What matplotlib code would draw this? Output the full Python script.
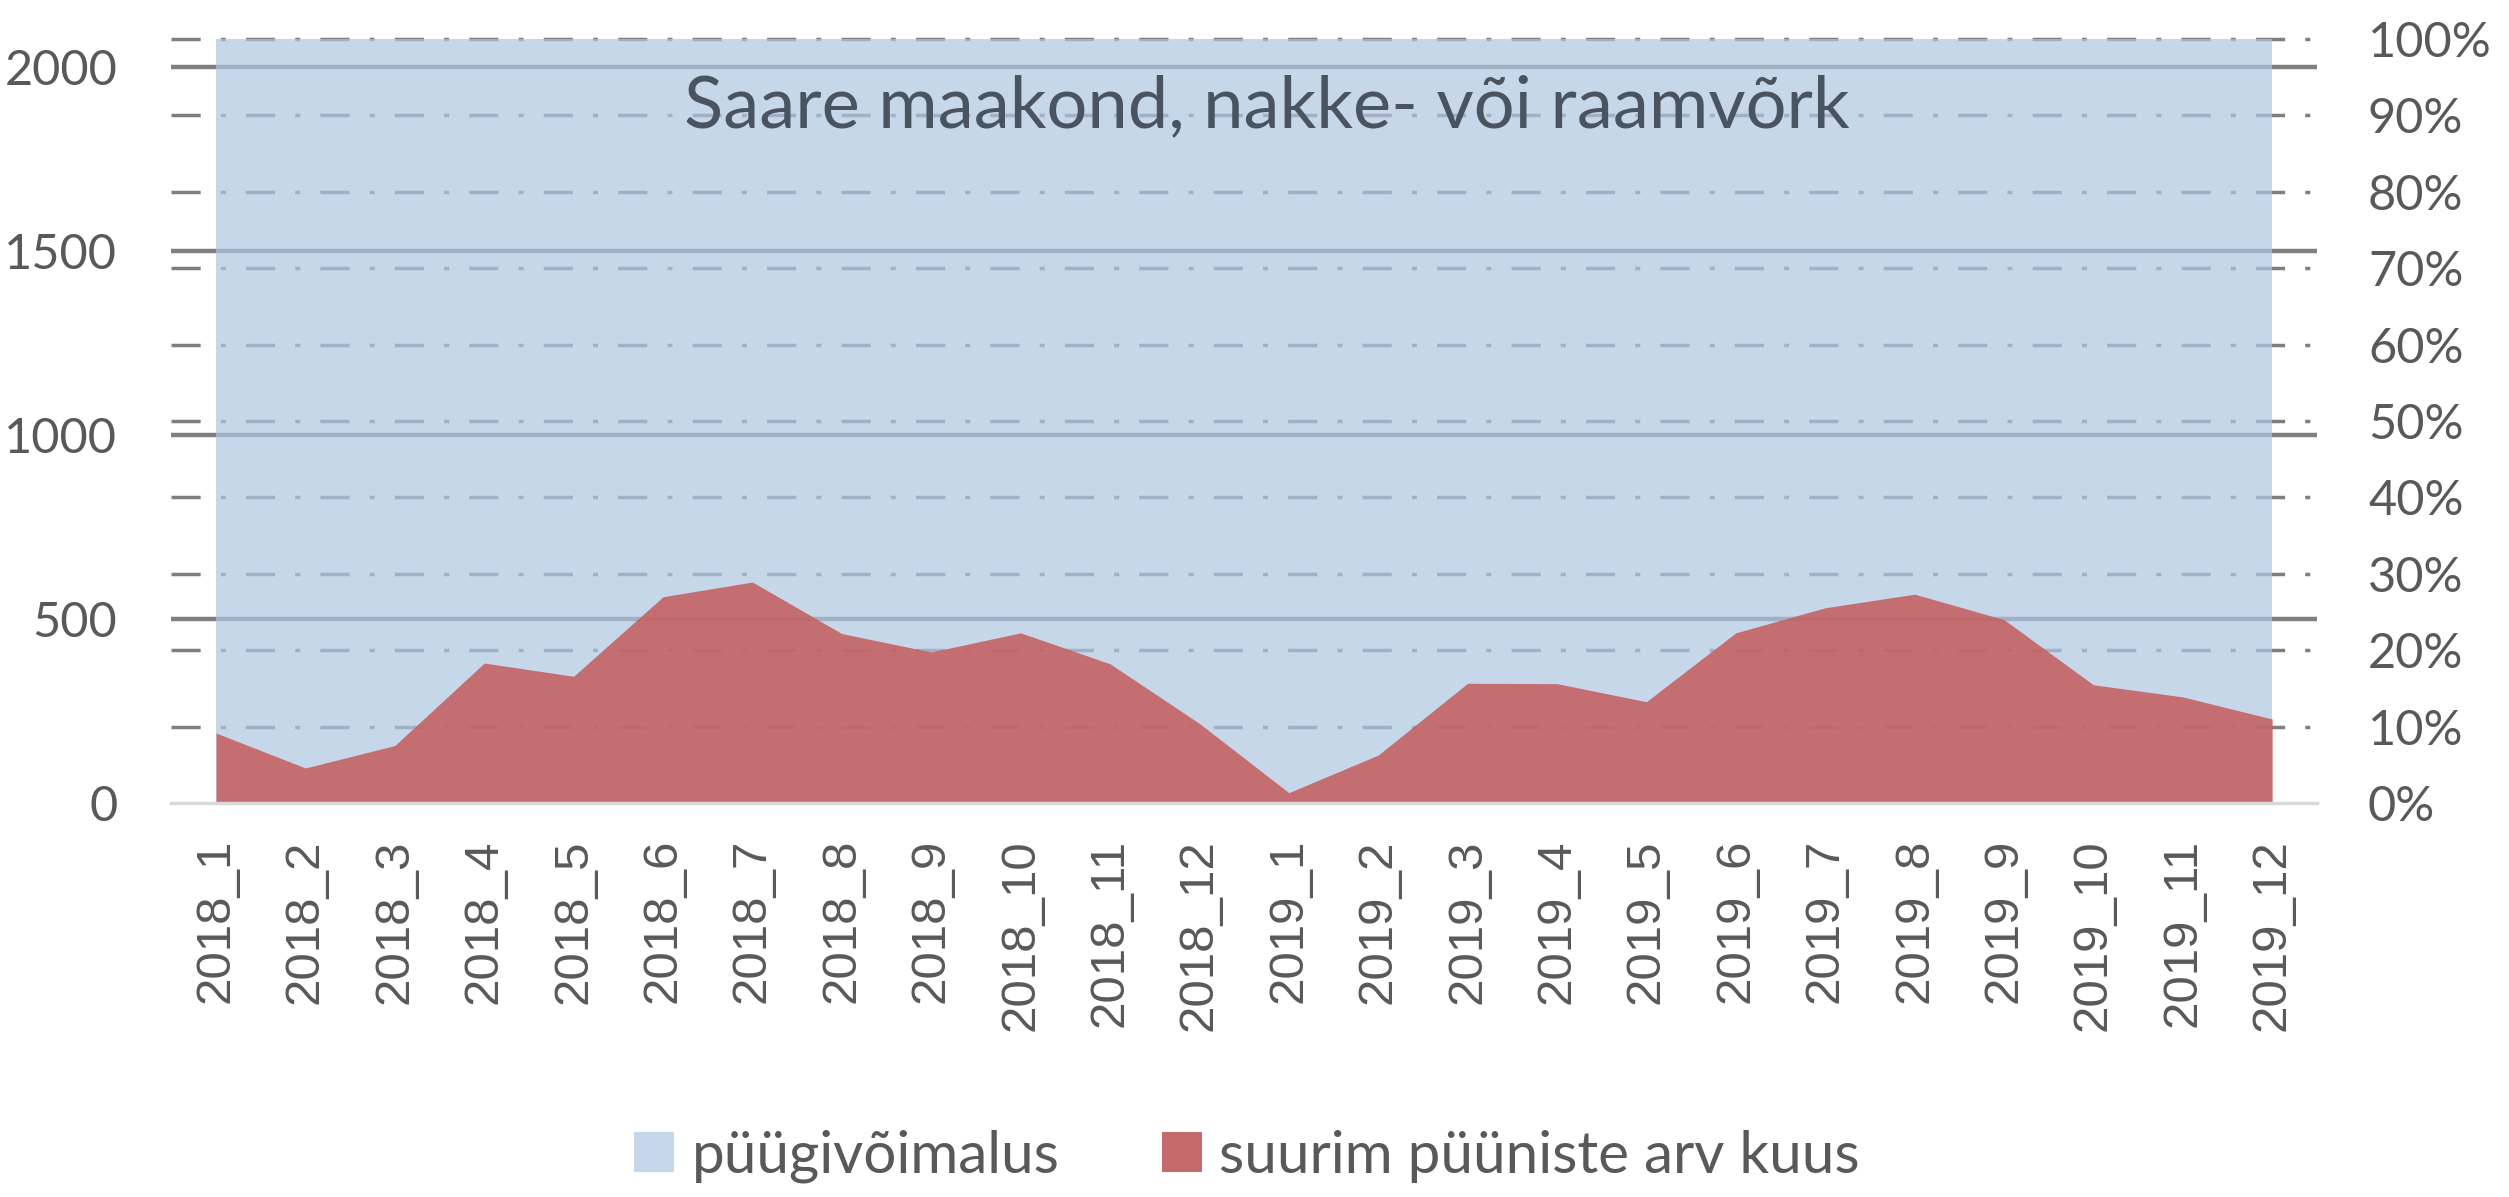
import matplotlib
matplotlib.use('Agg')
import matplotlib.pyplot as plt
from matplotlib.patches import Patch

plt.rcParams['font.family'] = ['Lato', 'DejaVu Sans']
plt.rcParams['lines.scale_dashes'] = False

# andmed
kuud = ['2018_1', '2018_2', '2018_3', '2018_4', '2018_5', '2018_6',
        '2018_7', '2018_8', '2018_9', '2018_10', '2018_11', '2018_12',
        '2019_1', '2019_2', '2019_3', '2019_4', '2019_5', '2019_6',
        '2019_7', '2019_8', '2019_9', '2019_10', '2019_11', '2019_12']
pyygivoimalus = [2075, 2075, 2075, 2075, 2075, 2075, 2075, 2075, 2075, 2075, 2075, 2075,
                 2075, 2075, 2075, 2075, 2075, 2075, 2075, 2075, 2075, 2075, 2075, 2075]
suurim_pyyniste_arv = [190, 95, 156, 380, 344, 560, 600, 460, 410, 462, 378, 216,
                       28, 130, 325, 324, 275, 462, 530, 567, 498, 321, 288, 228]
vasak_ticks = [0, 500, 1000, 1500, 2000]
parem_ticks = [0, 0.1, 0.2, 0.3, 0.4, 0.5, 0.6, 0.7, 0.8, 0.9, 1.0]
parem_labels = ['0%', '10%', '20%', '30%', '40%', '50%', '60%', '70%', '80%', '90%', '100%']

YMAX = 2075
sinine = '#b0c6e2'
punane = '#c56060'
hall_tekst = '#595959'

fig = plt.figure(figsize=(25.09, 11.97), dpi=100)
ax = fig.add_axes([0.0861, 0.3292, 0.8195, 0.6383])
x = list(range(len(kuud)))

# ruudustik (alade all, ulatub teljest veidi välja)
tr = ax.get_yaxis_transform()
ext = 0.022
for v in vasak_ticks[1:]:
    ax.plot([-ext, 1 + ext], [v, v], transform=tr, color='#7f7f7f', lw=3.2,
            solid_capstyle='butt', clip_on=False, zorder=1)
for p in parem_ticks[1:]:
    ax.plot([-ext, 1 + ext], [p * YMAX, p * YMAX], transform=tr, color='#7f7f7f', lw=2.5,
            linestyle=(0, (21, 14.5, 3.6, 14.5)), dash_capstyle='butt',
            clip_on=False, zorder=1)

ax.fill_between(x, 0, pyygivoimalus, color=sinine, alpha=0.7, lw=0, zorder=2)
ax.fill_between(x, 0, suurim_pyyniste_arv, color=punane, alpha=0.88, lw=0, zorder=3)

# x-telje joon
ax.plot([-ext, 1 + ext], [0, 0], transform=tr, color='#d9d9d9', lw=2.5,
        clip_on=False, zorder=4)

ax.set_xlim(0, len(kuud) - 1)
ax.set_ylim(0, YMAX)
ax.set_yticks(vasak_ticks)
ax.set_yticklabels([str(v) for v in vasak_ticks])
ax.set_xticks(x)
ax.set_xticklabels(kuud, rotation=90, family=['Liberation Sans', 'DejaVu Sans'])
ax.tick_params(axis='x', length=0, pad=26, labelsize=35.5, colors=hall_tekst)
ax.tick_params(axis='y', length=0, pad=71, labelsize=35, colors=hall_tekst)
for s in ax.spines.values():
    s.set_visible(False)

ax2 = ax.twinx()
ax2.set_ylim(0, 1)
ax2.set_yticks(parem_ticks)
ax2.set_yticklabels(parem_labels)
ax2.tick_params(axis='y', length=0, pad=69, labelsize=35, colors=hall_tekst)
for s in ax2.spines.values():
    s.set_visible(False)

ax.text(0.511, 0.911, 'Saare maakond, nakke- või raamvõrk', transform=ax.transAxes,
        ha='center', va='center', fontsize=52, color='#4a5461', zorder=6)

handles = [Patch(facecolor='#c6d7ec', edgecolor='none'),
           Patch(facecolor='#c66b6d', edgecolor='none')]
fig.legend(handles, ['püügivõimalus', 'suurim püüniste arv kuus'], loc='center',
           bbox_to_anchor=(0.497, 0.034), ncol=2, frameon=False, fontsize=42,
           labelcolor=hall_tekst, handlelength=0.69, handleheight=0.69,
           handletextpad=0.3, columnspacing=1.75)

fig.savefig('out.png', dpi=100)
